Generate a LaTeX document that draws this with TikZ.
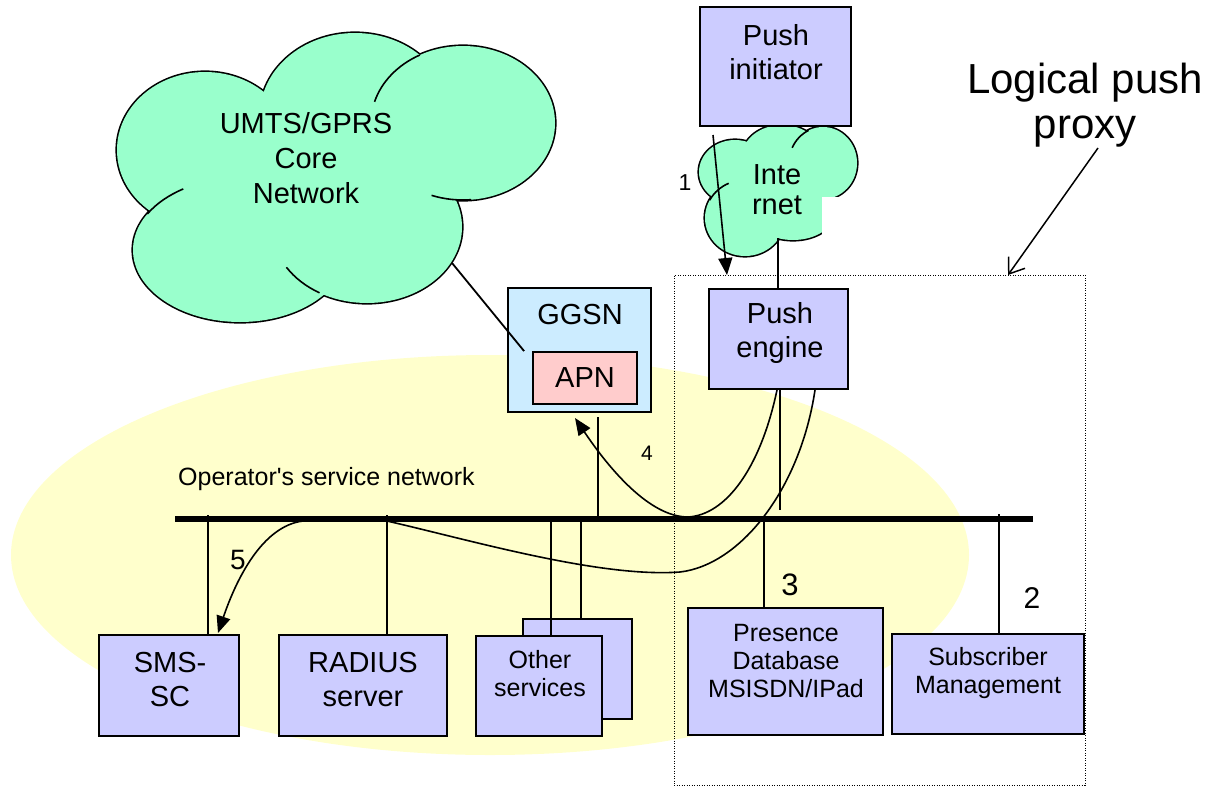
\documentclass[tikz,border=0pt]{standalone}
\usepackage{fontspec}
\setmainfont{Liberation Sans}
\newfontfamily\plainsans{Liberation Sans}
\usetikzlibrary{arrows.meta}
\definecolor{boxblue}{HTML}{CCCCFF}
\definecolor{ggsnblue}{HTML}{CCECFF}
\definecolor{apnpink}{HTML}{FFCCCC}
\definecolor{cloudgreen}{HTML}{99FFCC}
\definecolor{netyellow}{HTML}{FFFFCC}
\newcommand{\fsz}[2]{\fontsize{#1}{#2}\selectfont}
\begin{document}
\begin{tikzpicture}[x=1pt,y=-1pt,
  box/.style={draw=black, line width=1.8pt, fill=boxblue, inner sep=0pt},
  txt/.style={align=center, inner sep=0pt, font=\fsz{29}{34}},
  stxt/.style={align=center, inner sep=0pt, font=\fsz{25}{28}},
  conn/.style={line width=1.5pt},
  msg/.style={line width=1.6pt, -{Triangle[length=17pt,width=14pt]}},
  lbl/.style={inner sep=0pt},
  cloudline/.style={line width=1.6pt},
  proxybox/.style={draw=black, line width=1pt, dash pattern=on 1pt off 1.5pt, inner sep=0pt},
]
\useasboundingbox (0,0) rectangle (1214,787);
% operator network area
\fill[netyellow] (490,555) ellipse [x radius=479, y radius=200];

% UMTS/GPRS core network cloud
\draw[line width=3.2pt, fill=cloudgreen]
  (205,150) ellipse [x radius=88, y radius=78]
  (355,115) ellipse [x radius=95, y radius=82]
  (463,123) ellipse [x radius=92, y radius=77]
  (240,250) ellipse [x radius=107, y radius=72]
  (367,227) ellipse [x radius=95, y radius=76];
\fill[cloudgreen]
  (205,150) ellipse [x radius=88, y radius=78]
  (355,115) ellipse [x radius=95, y radius=82]
  (463,123) ellipse [x radius=92, y radius=77]
  (240,250) ellipse [x radius=107, y radius=72]
  (367,227) ellipse [x radius=95, y radius=76]
  (320,175) ellipse [x radius=140, y radius=90];
\draw[cloudline] ([shift={(463,123)}]196:92 and 77) arc[start angle=196, end angle=242, x radius=92, y radius=77];
\draw[cloudline] ([shift={(463,123)}]85:92 and 77) arc[start angle=85, end angle=110, x radius=92, y radius=77];
\draw[cloudline] ([shift={(367,227)}]120:95 and 76) arc[start angle=120, end angle=148, x radius=95, y radius=76];
\draw[cloudline] ([shift={(240,250)}]210:107 and 72) arc[start angle=210, end angle=238, x radius=107, y radius=72];
\node[txt, font=\fsz{29}{35}] (umts) at (306,158) {UMTS/GPRS\\Core\\Network};
\coordinate (cloud-pt) at (452,263);

% Internet cloud
\draw[line width=3.2pt, fill=cloudgreen]
  (735,172) ellipse [x radius=36, y radius=32]
  (782,157) ellipse [x radius=40, y radius=32]
  (823,163) ellipse [x radius=34, y radius=36]
  (745,218) ellipse [x radius=40, y radius=38]
  (793,212) ellipse [x radius=42, y radius=28];
\fill[cloudgreen]
  (735,172) ellipse [x radius=36, y radius=32]
  (782,157) ellipse [x radius=40, y radius=32]
  (823,163) ellipse [x radius=34, y radius=36]
  (745,218) ellipse [x radius=40, y radius=38]
  (793,212) ellipse [x radius=42, y radius=28]
  (780,190) ellipse [x radius=40, y radius=32];
\draw[cloudline] ([shift={(823,163)}]205:34 and 36) arc[start angle=205, end angle=245, x radius=34, y radius=36];
\draw[cloudline] ([shift={(745,218)}]208:40 and 38) arc[start angle=208, end angle=246, x radius=40, y radius=38];
\fill[white] (822,197) rectangle (862,240);
\node[txt, font=\fsz{29}{30}] (inet) at (777,190) {Inte\\rnet};
\coordinate (inet-b) at (778,238);

% Push initiator
\node[box, minimum width=151pt, minimum height=119pt] (pi) at (775.5,66.5) {};
\node[txt] (pi-t) at (776,52) {Push\\initiator};

% logical push proxy box
\node[proxybox, minimum width=411pt, minimum height=510pt] (proxy) at (879.5,530) {};
\node[txt, font=\fsz{42}{45}] (lpp) at (1085,105) {Logical push\\proxy};
\coordinate (lpp-s) at (1098,148);
\coordinate (proxy-tip) at (1008,275);
\draw[line width=1.5pt, -{Straight Barb[length=14pt,width=20pt]}] (lpp-s) -- (proxy-tip);

% GGSN with APN
\node[draw=black, line width=1.8pt, fill=ggsnblue, minimum width=143pt, minimum height=124pt, inner sep=0pt] (ggsn) at (579.5,350) {};
\node[txt] (ggsn-t) at (580,315) {GGSN};
\node[draw=black, line width=1.8pt, fill=apnpink, minimum width=104pt, minimum height=52pt, inner sep=0pt, font=\fsz{29}{34}] (apn) at (585,378) {APN};
\draw[line width=1.8pt] (cloud-pt) -- ([xshift=-8pt]apn.north west);

% Push engine
\node[box, minimum width=139pt, minimum height=100pt] (pe) at (778.5,339) {};
\node[txt] (pe-t) at (780,333) {Push\\engine};
\draw[conn] (inet-b) -- (inet-b |- pe.north);

% arrow 1
\coordinate (a1-s) at (713,135);
\coordinate (a1-e) at (727,275);
\draw[msg] (a1-s) -- (a1-e);
\node[lbl, font=\fsz{23}{26}] (l1) at (685,183) {1};

% bus
\coordinate (bus-l) at (175,519);
\coordinate (bus-r) at (1033,519);
\draw[line width=6.5pt] (bus-l) -- (bus-r);
\node[lbl, font=\plainsans\fsz{25}{28}, anchor=west] (osn) at (178,479) {Operator's service network};

% bottom boxes
\node[box, minimum width=140pt, minimum height=101pt] (sms) at (169,685.5) {};
\node[txt] (sms-t) at (170,680) {SMS-\\SC};
\node[box, minimum width=168pt, minimum height=101pt] (radius) at (363,685.5) {};
\node[txt] (radius-t) at (363,680) {RADIUS\\server};
\node[box, minimum width=109pt, minimum height=100pt] (othb) at (577.5,669) {};
\coordinate (b-oth2) at (581,517);
\draw[conn] (b-oth2) -- (b-oth2 |- othb.north);
\coordinate (b-oth1) at (551,517);
\coordinate (oth-top) at (551,636);
\draw[conn] (b-oth1) -- (oth-top);
\node[box, minimum width=126pt, minimum height=100pt] (oth) at (539,686) {};
\node[stxt] (oth-t) at (540,674) {Other\\services};
\node[box, minimum width=195pt, minimum height=127pt] (pres) at (785.5,671.5) {};
\node[stxt] (pres-t) at (786,661) {Presence\\Database\\MSISDN/IPad};
\node[box, minimum width=192pt, minimum height=100pt] (subs) at (988,684) {};
\node[stxt] (subs-t) at (988,673) {Subscriber\\Management};

% vertical connectors
\coordinate (b-sms) at (208,515);
\draw[conn] (b-sms) -- (b-sms |- sms.north);
\coordinate (b-rad) at (387,515);
\draw[conn] (b-rad) -- (b-rad |- radius.north);
\coordinate (b-pres) at (764,517);
\draw[conn] (b-pres) -- (b-pres |- pres.north);
\coordinate (b-subs) at (999,514);
\draw[conn] (b-subs) -- (b-subs |- subs.north);
\coordinate (b-ggsn) at (598,517);
\coordinate (ggsn-b) at (598,417);
\draw[conn] (b-ggsn) -- (ggsn-b);
\coordinate (b-pe) at (780,510);
\draw[conn] (b-pe |- pe.south) -- (b-pe);

% message 4
\coordinate (m4-s) at (777,390);
\coordinate (m4-e) at (575,418);
\draw[msg] (m4-s) .. controls (760,470) and (725,515) .. (688,517)
  .. controls (650,517) and (610,470) .. (m4-e);
\node[lbl, font=\fsz{21}{24}] (l4) at (647,453) {4};

% message 5
\coordinate (m5-s) at (815,390);
\coordinate (m5-e) at (218,633);
\draw[msg] (m5-s) .. controls (800,490) and (740,565) .. (680,572)
  .. controls (600,578) and (470,540) .. (387,521) -- (303,521)
  .. controls (262,526) and (236,580) .. (m5-e);
\node[lbl, font=\fsz{28}{30}] (l5) at (238,560) {5};

\node[lbl, font=\fsz{31}{34}] (l3) at (790,585) {3};
\node[lbl, font=\fsz{30}{33}] (l2) at (1032,598) {2};
\end{tikzpicture}
\end{document}
